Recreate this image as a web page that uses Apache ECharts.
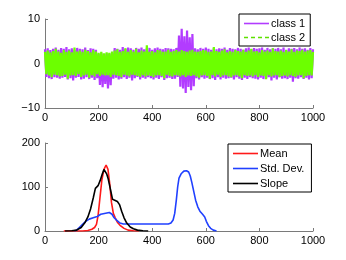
<!DOCTYPE html>
<html><head><meta charset="utf-8">
<script src="https://cdn.jsdelivr.net/npm/echarts@6/dist/echarts.min.js"></script>
<style>html,body{margin:0;padding:0;background:#fff}#c{width:346px;height:260px}</style>
</head><body><div id="c"></div>
<script>
// sample spacing: one value every 5 samples, from 0 to 1000
var sampleStep = 5;
var class1 = [
3.2,-3.0,3.4,-3.3,3.0,-3.5,3.3,-3.1,3.6,-3.2,3.1,-3.4,3.5,-3.2,3.3,-3.0,3.7,-3.6,3.2,-3.3,
3.4,-3.8,3.1,-3.2,3.5,-3.0,3.3,-3.6,3.2,-3.4,3.6,-3.1,3.0,-3.5,3.4,-3.2,3.3,-3.7,3.1,-3.3,
2.2,-4.8,2.4,-5.3,2.1,-4.6,2.3,-5.6,2.2,-4.9,2.4,-3.4,3.5,-3.2,3.3,-3.6,3.1,-3.4,3.7,-3.1,
3.3,-3.5,3.6,-3.2,3.4,-3.8,3.1,-3.3,3.5,-3.0,3.3,-3.6,3.6,-3.2,3.2,-3.4,3.4,-3.1,3.5,-3.3,
3.1,-3.6,3.4,-3.2,3.6,-3.5,3.3,-3.1,3.2,-3.7,3.5,-3.3,3.4,-3.2,3.3,-3.5,3.2,-3.4,3.5,-3.0,
6.3,-5.2,7.8,-5.6,6.1,-6.6,7.4,-5.3,5.9,-6.0,6.6,-5.1,3.4,-3.3,3.2,-3.6,3.5,-3.1,3.3,-3.4,
3.6,-3.2,3.3,-3.5,3.1,-3.3,3.5,-3.7,3.2,-3.1,3.4,-3.6,3.3,-3.2,3.6,-3.4,3.1,-3.3,3.5,-3.2,
3.3,-3.6,3.2,-3.1,3.5,-3.4,3.3,-3.7,3.1,-3.2,3.4,-3.5,3.6,-3.1,3.2,-3.3,3.5,-3.4,3.3,-3.6,
3.4,-3.2,3.6,-3.5,3.1,-3.3,3.5,-3.1,3.2,-3.8,3.4,-3.2,3.3,-3.6,3.5,-3.1,3.2,-3.4,3.6,-3.3,
3.1,-3.5,3.4,-3.2,3.3,-4.1,3.5,-3.3,3.2,-3.4,3.6,-3.1,3.3,-3.5,3.4,-3.2,3.1,-3.6,3.5,-3.3,3.2
];
var class2 = [
2.6,-2.4,2.9,-2.7,2.5,-3.1,2.8,-2.5,3.3,-2.6,2.7,-2.9,2.4,-2.8,3.0,-2.5,2.6,-3.4,2.9,-2.7,
2.5,-2.6,3.6,-2.8,2.7,-2.4,2.9,-3.0,2.6,-2.7,3.1,-2.5,2.8,-3.2,2.5,-2.6,3.0,-2.9,2.7,-2.4,
2.4,-2.8,2.6,-2.5,2.3,-2.7,2.5,-2.6,2.4,-3.0,2.7,-2.5,2.9,-2.6,3.2,-2.8,2.6,-3.1,2.8,-2.5,
3.4,-2.7,2.6,-2.9,3.0,-2.5,2.7,-2.6,3.3,-2.8,2.5,-3.0,2.9,-2.6,2.7,-2.9,4.1,-2.7,2.6,-2.8,
2.8,-3.1,2.5,-2.7,3.0,-2.6,2.9,-2.8,2.6,-3.3,2.7,-2.5,3.1,-2.8,2.6,-2.9,2.8,-2.6,3.0,-2.7,
2.7,-2.9,3.0,-2.6,2.8,-3.0,2.6,-2.7,2.9,-2.8,3.1,-2.6,2.7,-2.9,2.6,-3.2,2.8,-2.7,3.0,-2.6,
2.9,-2.8,2.6,-3.4,2.7,-2.6,3.7,-2.9,2.8,-2.5,2.6,-3.0,2.9,-2.7,3.2,-2.6,2.5,-2.9,2.8,-3.1,
2.6,-2.7,3.0,-2.6,2.8,-2.9,2.7,-3.3,3.1,-2.6,2.6,-2.8,2.9,-2.7,3.3,-2.9,2.7,-2.6,2.8,-3.0,
2.5,-2.7,3.0,-2.8,2.7,-3.5,2.9,-2.6,2.6,-2.9,3.4,-2.7,2.8,-2.6,2.7,-3.1,2.9,-2.8,2.6,-2.7,
3.0,-2.9,2.7,-2.6,3.2,-2.8,2.6,-3.0,2.9,-2.7,2.8,-2.6,3.1,-3.3,2.7,-2.8,2.9,-2.6,3.0,-2.7,2.6
];
// bottom panel curves: x positions and values
var meanX  = [70,140,160,175,185,192,198,205,212,220,228,235,242,248,255,262,270,280,295,310,330,350];
var meanY  = [0,0,1,4,8,15,35,75,115,140,150,140,105,65,40,30,20,13,6,2,0.5,0];
var stdX   = [110,118,128,140,152,165,180,195,208,215,240,250,258,268,280,292,320,400,460,470,478,484,490,495,500,508,518,528,536,542,548,555,562,570,578,588,596,602,610,618,628,640];
var stdY   = [0,2,8,15,22,27,30,33,38,42,42,38,30,24,18,16,16,16,16,18,25,40,70,100,120,130,136,137,134,125,110,90,70,55,45,38,32,22,12,6,2,0];
var slopeX = [75,100,118,135,150,160,170,180,188,198,206,214,220,224,230,236,244,252,260,270,278,286,295,305,318,330,345,365,385];
var slopeY = [0,0.5,2,8,20,32,50,75,97,103,115,130,140,143,130,118,95,72,70,67,60,45,30,18,9,5,2,0.5,0];

function pairs(xs, ys){ return xs.map(function(x,i){return [x, ys[i]];}); }
function sampled(vals){ return vals.map(function(v,i){return [i*sampleStep, v];}); }

var axisCol = '#7a7a7a';
var font = 'Liberation Sans, Arial, sans-serif';
var solidIcon = 'path://M0,0h25v1.6h-25z';
var dashIcon = 'path://M0,0h4v1.6h-4zM7,0h4v1.6h-4zM14,0h4v1.6h-4zM21,0h4v1.6h-4z';
function xAxis(gi){
  return {type:'value', gridIndex:gi, min:0, max:1000, interval:200,
    axisLine:{show:true, onZero:false, lineStyle:{color:axisCol, width:1}},
    axisTick:{show:true, inside:true, length:3, lineStyle:{color:axisCol}},
    axisLabel:{color:'#000', fontSize:11, fontFamily:font, margin:4,
      formatter:function(v){ return String(v); }},
    splitLine:{show:false}};
}
function yAxis(gi, mn, mx, iv){
  return {type:'value', gridIndex:gi, min:mn, max:mx, interval:iv,
    axisLine:{show:true, onZero:false, lineStyle:{color:axisCol, width:1}},
    axisTick:{show:true, inside:true, length:3, lineStyle:{color:axisCol}},
    axisLabel:{color:'#000', fontSize:11, fontFamily:font, margin:5,
      formatter:function(v){ return v<0 ? '\u2212'+Math.abs(v) : String(v); }},
    splitLine:{show:false}};
}

var chart = echarts.init(document.getElementById('c'), null, {renderer:'canvas'});
chart.setOption({
  animation:false,
  backgroundColor:'#fff',
  grid:[{left:45, top:19, width:268, height:89},
        {left:45, top:143, width:268, height:88}],
  xAxis:[xAxis(0), xAxis(1)],
  yAxis:[yAxis(0,-10,10,10), yAxis(1,0,200,100)],
  legend:[
    {orient:'vertical', left:239, top:14, padding:[4,5,3,5], itemGap:3,
     itemWidth:25, itemHeight:12, borderColor:'#000', borderWidth:1, backgroundColor:'#fff',
     textStyle:{fontSize:11, fontFamily:font, color:'#000', padding:[0,0,0,-3]},
     data:[{name:'class 1', icon:solidIcon, itemStyle:{color:'#b23cff'}},
           {name:'class 2', icon:dashIcon, itemStyle:{color:'#5ee000'}}]},
    {orient:'vertical', left:228, top:144, padding:[4,7,3,5], itemGap:4,
     itemWidth:25, itemHeight:12, borderColor:'#000', borderWidth:1, backgroundColor:'#fff',
     textStyle:{fontSize:11, fontFamily:font, color:'#000', padding:[0,0,0,-3]},
     data:[{name:'Mean', icon:solidIcon},{name:'Std. Dev.', icon:solidIcon},{name:'Slope', icon:solidIcon}]}
  ],
  series:[
    {name:'class 1', type:'line', xAxisIndex:0, yAxisIndex:0, symbol:'none', data:sampled(class1),
     lineStyle:{color:'#b23cff', width:2.2}, itemStyle:{color:'#b23cff'}},
    {name:'class 2', type:'line', xAxisIndex:0, yAxisIndex:0, symbol:'none', data:sampled(class2),
     lineStyle:{color:'#6cff00', width:2.2}, itemStyle:{color:'#6cff00'}},
    {name:'Mean', type:'line', xAxisIndex:1, yAxisIndex:1, symbol:'none', data:pairs(meanX,meanY),
     lineStyle:{color:'#ff1a1a', width:1.6}, itemStyle:{color:'#ff1a1a'}},
    {name:'Std. Dev.', type:'line', xAxisIndex:1, yAxisIndex:1, symbol:'none', data:pairs(stdX,stdY),
     lineStyle:{color:'#2040ff', width:1.6}, itemStyle:{color:'#2040ff'}},
    {name:'Slope', type:'line', xAxisIndex:1, yAxisIndex:1, symbol:'none', data:pairs(slopeX,slopeY),
     lineStyle:{color:'#000', width:1.6}, itemStyle:{color:'#000'}}
  ]
});
</script></body></html>
